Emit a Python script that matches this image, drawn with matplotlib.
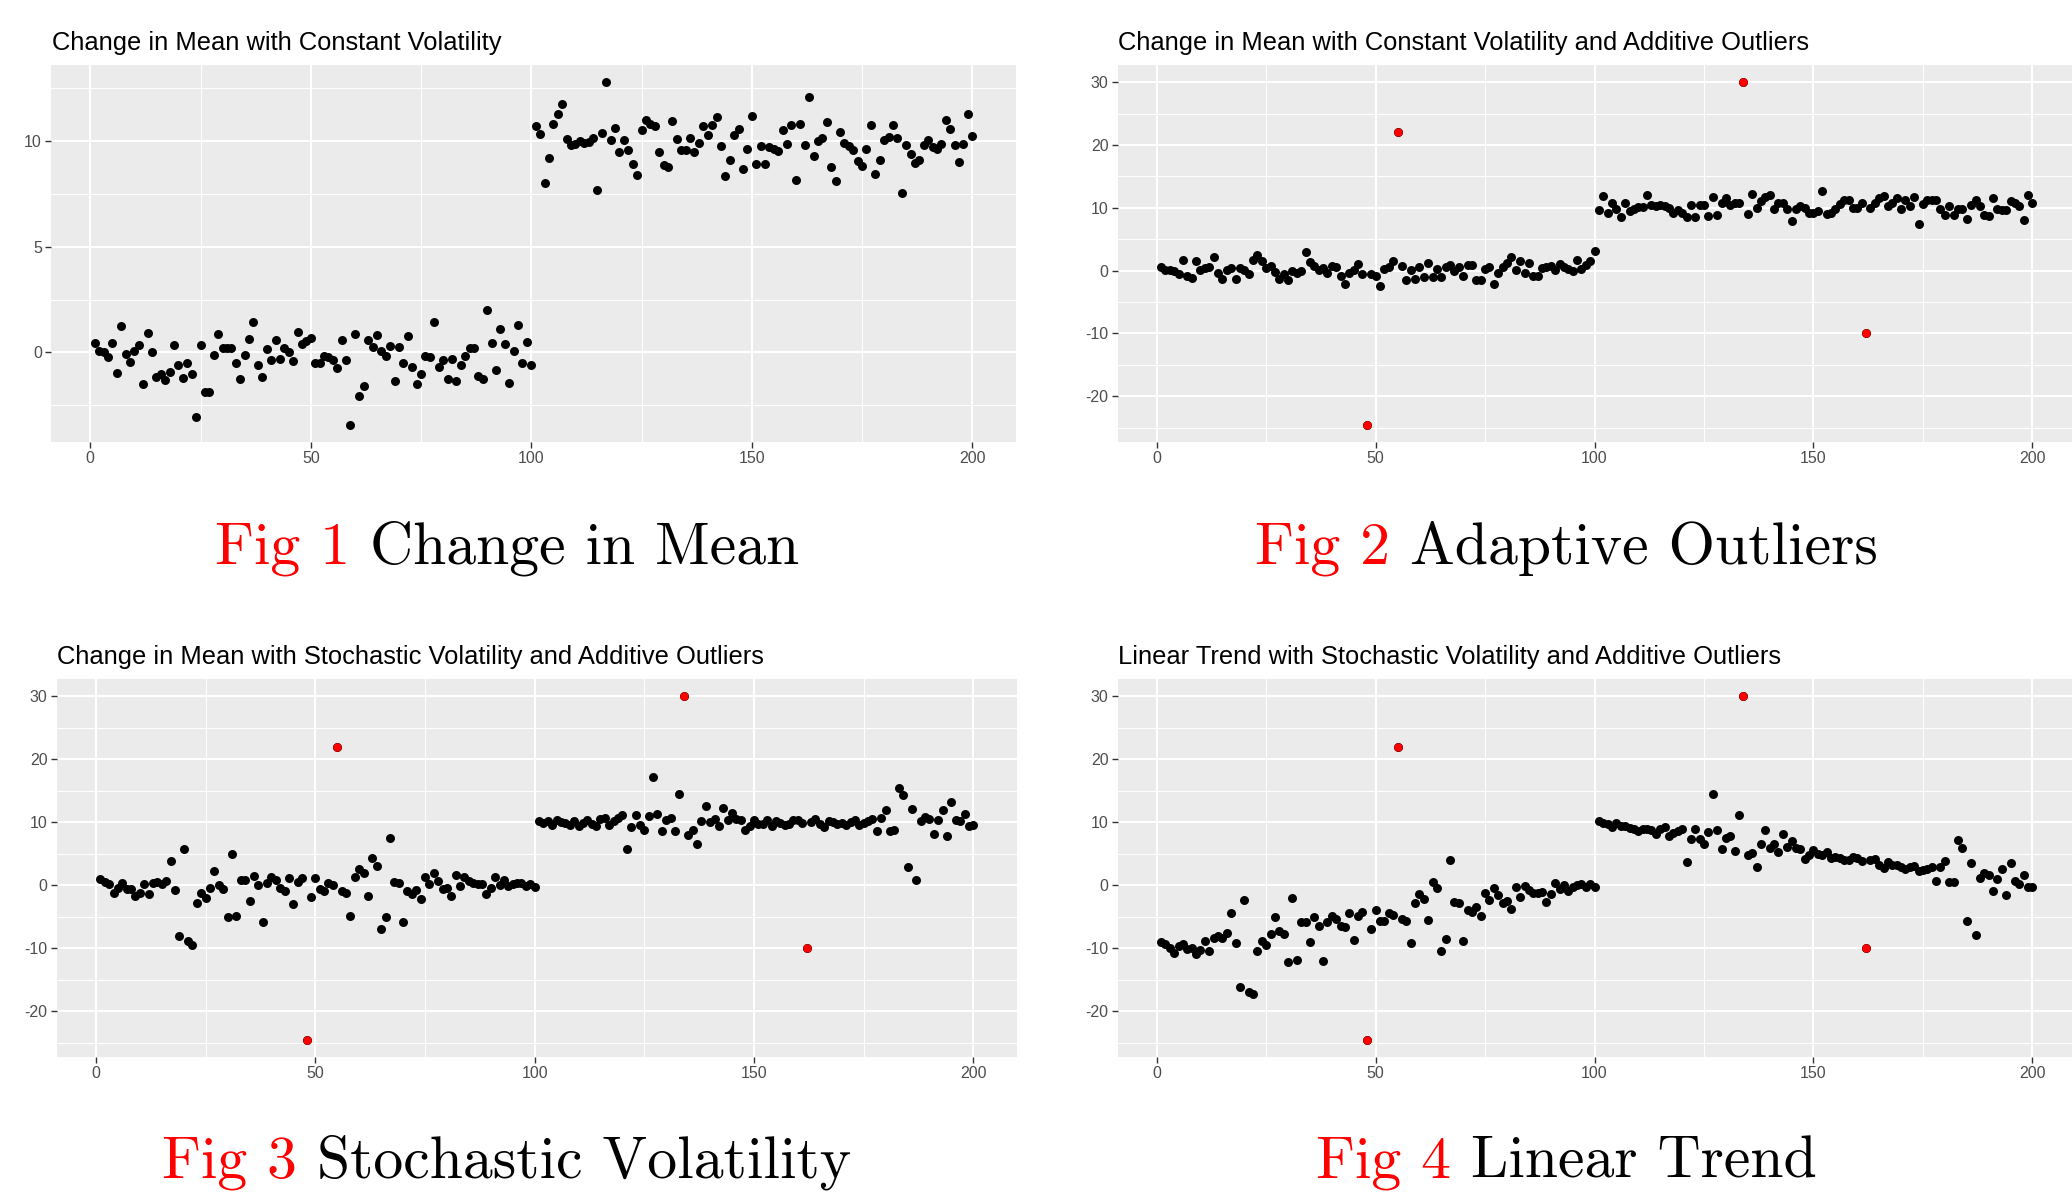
import numpy as np
import matplotlib
matplotlib.use("Agg")
import matplotlib.pyplot as plt

plt.rcParams['axes.unicode_minus'] = False
plt.rcParams['font.family'] = ['Liberation Sans', 'DejaVu Sans']

# ---------------- data ----------------
time = np.arange(1, 201)
outlier_idx = [48, 55, 134, 162]

p1_first = [0.44, 0.05, 0.0, -0.2, 0.44, -0.97, 1.23, -0.08, -0.47, 0.05,
            0.36, -1.5, 0.9, 0.0, -1.18, -1.02, -1.29, -0.91, 0.36, -0.6,
            -1.21, -0.5, -1.04, -3.05, 0.36, -1.89, -1.89, -0.1, 0.86, 0.19,
            0.19, 0.19, -0.52, -1.24, -0.1, 0.64, 1.46, -0.57, -1.16, 0.17,
            -0.38, 0.6, -0.31, 0.19, 0.02, -0.42, 0.96, 0.39, 0.55, 0.68,
            -0.5, -0.5, -0.19, -0.22, -0.38, -0.74, 0.57, -0.38, -3.41, 0.88,
            -2.08, -1.6, 0.57, 0.24, 0.82, 0.05, -0.15, 0.31, -1.37, 0.24,
            -0.5, 0.8, -0.69, -1.5, -1.0, -0.19, -0.22, 1.42, -0.69, -0.35,
            -1.24, -0.3, -1.37, -0.57, -0.19, 0.2, 0.2, -1.13, -1.24, 2.01,
            0.47, -0.82, 1.12, 0.41, -1.45, 0.06, 1.29, -0.5, 0.5, -0.61]
p1_second = [10.69, 10.35, 7.99, 9.2, 10.82, 11.26, 11.76, 10.11, 9.8, 9.87,
             10.0, 9.9, 9.95, 10.16, 7.7, 10.38, 12.78, 10.06, 10.61, 9.48,
             10.06, 9.59, 8.9, 8.41, 10.53, 11.0, 10.82, 10.69, 9.48, 8.88,
             8.77, 10.94, 10.11, 9.59, 9.59, 10.16, 9.47, 9.9, 10.69, 10.27,
             10.74, 11.13, 9.75, 8.36, 9.09, 10.27, 10.55, 8.66, 9.6, 11.16,
             8.9, 9.75, 8.93, 9.69, 9.64, 9.53, 10.5, 9.87, 10.74, 8.14,
             10.82, 9.83, 12.1, 9.31, 10.0, 10.16, 10.91, 8.77, 8.11, 10.42,
             9.92, 9.75, 9.56, 9.06, 8.8, 9.62, 10.77, 8.46, 9.09, 10.03,
             10.19, 10.77, 10.14, 7.52, 9.83, 9.4, 8.98, 9.12, 9.83, 10.06,
             9.69, 9.62, 9.87, 10.97, 10.58, 9.8, 9.0, 9.87, 11.26, 10.22]

p2_first = [0.5, 0.1, 0.1, 0.0, -0.6, 1.7, -0.9, -1.1, 1.5, 0.1,
            0.4, 0.5, 2.2, -0.3, -1.3, 0.1, 0.4, -1.3, 0.4, 0.1,
            -0.6, 1.7, 2.5, 1.5, 0.4, 0.8, -0.2, -1.3, -0.6, -1.5,
            -0.1, -0.4, -0.1, 3.0, 1.4, 0.8, 0.1, 0.4, -0.4, 0.8,
            0.6, -0.9, -2.1, -0.4, 0.1, 1.0, -0.5, -24.5, -0.5, -0.8,
            -2.5, 0.3, 0.6, 1.6, 22.0, 0.8, -1.5, 0.1, -1.4, 0.5,
            -1.0, 1.2, -1.0, 0.3, -1.0, 0.5, 0.9, -0.1, 0.5, -0.8,
            0.9, 0.9, -1.5, -1.5, 0.3, 0.6, -2.2, -0.3, 0.6, 1.2,
            2.2, 0.1, 1.6, -0.4, 1.2, -0.8, -0.8, 0.4, 0.5, 0.8,
            0.1, 1.1, 0.5, 0.3, -0.1, 1.7, 0.3, 0.9, 1.5, 3.1]
p2_second = [9.66, 11.8, 9.2, 10.7, 9.8, 8.5, 10.8, 9.5, 9.8, 10.1,
             10.1, 12.1, 10.4, 10.3, 10.4, 10.3, 9.9, 9.1, 9.6, 9.2,
             8.5, 10.4, 8.5, 10.4, 10.4, 8.7, 11.7, 8.9, 10.7, 11.6,
             10.4, 10.7, 10.8, 30.0, 9.0, 12.2, 9.9, 11.1, 11.7, 12.0,
             9.8, 10.8, 10.7, 9.8, 7.9, 9.8, 10.3, 9.9, 9.1, 9.2,
             9.5, 12.7, 9.0, 9.2, 9.8, 10.6, 11.3, 11.2, 9.9, 9.9,
             10.8, -10.0, 9.9, 10.8, 11.5, 11.9, 10.3, 10.8, 11.5, 9.8,
             11.2, 10.3, 11.7, 7.5, 10.6, 11.3, 11.2, 11.2, 9.8, 8.9,
             10.3, 8.9, 9.8, 9.8, 8.2, 10.4, 11.2, 10.3, 8.9, 8.7,
             11.6, 9.8, 9.6, 9.6, 11.1, 10.7, 10.3, 8.0, 12.0, 10.8]

p3_first = [1.05, 0.5, 0.15, -1.15, -0.4, 0.3, -0.6, -0.6, -1.7, -1.2,
            0.15, -1.4, 0.3, 0.5, 0.15, 0.7, 3.85, -0.75, -8.0, 5.7,
            -8.9, -9.5, -2.75, -1.25, -1.95, -0.4, 2.3, 0.0, -0.6, -5.1,
            5.05, -4.95, 0.85, 0.85, -2.5, 1.5, 0.0, -5.8, 0.3, 1.35,
            0.85, -0.5, -0.9, 1.2, -3.0, 0.5, 1.2, -24.5, -1.85, 1.2,
            -0.6, -0.9, 0.4, 0.0, 22.0, -0.9, -1.15, -4.85, 1.35, 2.55,
            1.9, -1.7, 4.4, 3.05, -6.95, -5.1, 7.5, 0.5, 0.4, -5.75,
            -0.9, -1.4, -0.75, -2.2, 1.35, 0.15, 1.9, 0.7, -0.6, -0.4,
            -1.7, 1.6, -0.1, 1.35, 0.7, 0.3, 0.15, 0.15, -1.4, -0.4,
            1.35, 0.0, 0.85, -0.1, 0.15, 0.3, 0.3, -0.1, 0.15, -0.2]
p3_second = [10.2, 9.9, 10.2, 9.65, 10.3, 10.0, 9.9, 9.65, 10.2, 9.5,
             9.9, 10.3, 9.8, 9.5, 10.55, 10.7, 9.65, 10.2, 10.7, 11.1,
             5.7, 9.3, 11.2, 9.65, 8.85, 11.0, 17.2, 11.4, 8.6, 10.45,
             10.7, 8.6, 14.5, 30.0, 8.05, 8.75, 6.5, 10.2, 12.55, 10.0,
             10.55, 9.4, 12.3, 10.3, 11.5, 10.55, 10.3, 8.85, 9.5, 10.3,
             9.8, 9.8, 10.3, 9.5, 10.2, 9.9, 9.65, 9.8, 10.45, 10.3,
             9.9, -10.0, 10.0, 10.55, 9.8, 9.3, 10.2, 10.0, 9.8, 9.9,
             9.65, 10.0, 10.3, 9.65, 9.9, 10.2, 10.55, 8.6, 10.7, 11.9,
             8.6, 8.75, 15.45, 14.4, 2.95, 12.1, 0.8, 10.2, 10.85, 10.55,
             8.2, 10.3, 11.9, 7.9, 13.2, 10.3, 10.2, 11.4, 9.5, 9.65]

p4_first = [-8.97, -9.3, -9.9, -10.75, -9.7, -9.3, -10.1, -9.9, -10.9, -10.2,
            -8.8, -10.4, -8.4, -8.0, -8.4, -7.6, -4.4, -9.1, -16.2, -2.3,
            -16.9, -17.25, -10.4, -8.8, -9.5, -7.75, -5.1, -7.2, -7.75, -12.2,
            -1.95, -11.8, -5.9, -5.8, -8.97, -5.1, -6.4, -12.0, -5.9, -4.85,
            -5.3, -6.4, -6.7, -4.4, -8.65, -4.85, -4.2, -24.5, -6.95, -3.9,
            -5.65, -5.65, -4.4, -4.75, 22.0, -5.3, -5.65, -9.1, -2.75, -1.4,
            -2.1, -5.5, 0.5, -0.5, -10.5, -8.5, 4.1, -2.6, -2.75, -8.8,
            -3.9, -4.3, -3.5, -4.85, -1.25, -2.3, -0.35, -1.6, -2.75, -2.5,
            -3.7, -0.2, -1.8, -0.1, -0.75, -1.25, -1.25, -1.05, -2.65, -1.4,
            0.4, -0.6, 0.0, -0.9, -0.2, 0.0, 0.15, -0.2, 0.15, -0.2]
p4_second = [10.2, 9.9, 9.8, 9.3, 9.9, 9.5, 9.4, 9.1, 9.0, 8.6,
             9.0, 9.0, 8.75, 8.2, 9.0, 9.3, 7.9, 8.3, 8.6, 9.0,
             3.7, 7.3, 9.0, 7.4, 6.5, 8.45, 14.55, 8.75, 5.8, 7.55,
             7.8, 5.45, 11.2, 30.0, 4.75, 5.2, 2.95, 6.5, 8.75, 6.0,
             6.5, 5.3, 8.2, 6.1, 7.0, 6.0, 5.7, 4.2, 4.75, 5.6,
             4.9, 4.75, 5.3, 4.4, 4.55, 4.4, 4.0, 4.1, 4.55, 4.4,
             3.85, -10.0, 4.0, 4.2, 3.3, 2.8, 3.7, 3.3, 3.15, 2.95,
             2.65, 2.95, 3.05, 2.25, 2.4, 2.55, 2.95, 0.7, 2.95, 3.85,
             0.5, 0.5, 7.2, 6.0, -5.65, 3.6, -7.9, 1.2, 1.9, 1.6,
             -0.9, 1.05, 2.65, -1.6, 3.6, 0.7, 0.15, 1.6, -0.2, -0.2]

titles = ["Change in Mean with Constant Volatility",
          "Change in Mean with Constant Volatility and Additive Outliers",
          "Change in Mean with Stochastic Volatility and Additive Outliers",
          "Linear Trend with Stochastic Volatility and Additive Outliers"]
fig_tags = ["Fig 1", "Fig 2", "Fig 3", "Fig 4"]
fig_names = ["Change in Mean", "Adaptive Outliers", "Stochastic Volatility", "Linear Trend"]
x_ticks = [0, 50, 100, 150, 200]
y_ticks_p1 = [0, 5, 10]
y_ticks_out = [-20, -10, 0, 10, 20, 30]

series = [np.array(p1_first + p1_second),
          np.array(p2_first + p2_second),
          np.array(p3_first + p3_second),
          np.array(p4_first + p4_second)]
has_outliers = [False, True, True, True]
yticks_list = [y_ticks_p1, y_ticks_out, y_ticks_out, y_ticks_out]

# ---------------- layout ----------------
W, H = 2072, 1203
fig = plt.figure(figsize=(W / 100, H / 100), dpi=100)
fig.patch.set_facecolor('white')

# pixel boxes: (left, top, right, bottom)
boxes = [(50.8, 65.0, 1016.2, 441.7),
         (1117.5, 65.0, 2076.0, 441.7),
         (56.7, 679.3, 1017.0, 1056.7),
         (1117.5, 679.3, 2076.0, 1056.7)]
title_pos = [(51.5, 50.0), (1117.5, 50.0), (57.3, 664.0), (1117.5, 664.0)]
cap_pos = [(507, 564), (1566, 564), (507, 1178), (1566, 1178)]


def px_axes(l, t, r, b):
    return fig.add_axes([l / W, 1 - b / H, (r - l) / W, (b - t) / H])


def expand(vals, mult=0.05):
    lo, hi = float(np.min(vals)), float(np.max(vals))
    pad = (hi - lo) * mult
    return lo - pad, hi + pad


for i in range(4):
    ax = px_axes(*boxes[i])
    ax.set_facecolor('#EBEBEB')
    for sp in ax.spines.values():
        sp.set_visible(False)
    y = series[i]
    xlim = expand(time)
    ylim = expand(y)
    yt = yticks_list[i]
    step_y = yt[1] - yt[0]
    ax.set_xticks(x_ticks)
    ax.set_yticks(yt)
    ax.set_xticks([t + 25 for t in x_ticks[:-1]], minor=True)
    minor_y = [t - step_y / 2 for t in yt] + [yt[-1] + step_y / 2]
    minor_y = [m for m in minor_y if ylim[0] <= m <= ylim[1]]
    ax.set_yticks(minor_y, minor=True)
    ax.set_xlim(*xlim)
    ax.set_ylim(*ylim)
    ax.grid(which='major', color='white', linewidth=1.45)
    ax.grid(which='minor', color='white', linewidth=0.7)
    ax.set_axisbelow(True)
    ax.tick_params(which='major', length=4, width=1.0, color='#333333',
                   labelsize=11.5, labelcolor='#4D4D4D', pad=2.5)
    ax.tick_params(which='minor', length=0)
    ax.scatter(time, y, s=42, c='black', linewidths=0, zorder=3)
    if has_outliers[i]:
        oi = np.array(outlier_idx)
        ax.scatter(time[oi - 1], y[oi - 1], s=38, c='#FF0000', linewidths=0, zorder=4)
    ax.set_xlim(*xlim)
    ax.set_ylim(*ylim)
    tx, ty = title_pos[i]
    fig.text(tx / W, 1 - ty / H, titles[i], ha='left', va='baseline',
             fontsize=18.4, color='black', family='Liberation Sans')

# captions
fig.canvas.draw()
renderer = fig.canvas.get_renderer()
cap_size = 43
for i in range(4):
    cx, cy = cap_pos[i]
    t1 = fig.text(0, 1 - cy / H, fig_tags[i], color='#FF0000', family='cmr10',
                  fontsize=cap_size, ha='left', va='baseline')
    t2 = fig.text(0, 1 - cy / H, fig_names[i], color='black', family='cmr10',
                  fontsize=cap_size, ha='left', va='baseline')
    w1 = t1.get_window_extent(renderer).width
    w2 = t2.get_window_extent(renderer).width
    gap = 0.333 * cap_size * 100 / 72
    start = cx - (w1 + gap + w2) / 2
    t1.set_x(start / W)
    t2.set_x((start + w1 + gap) / W)

fig.savefig('out.png', dpi=100, facecolor='white')
